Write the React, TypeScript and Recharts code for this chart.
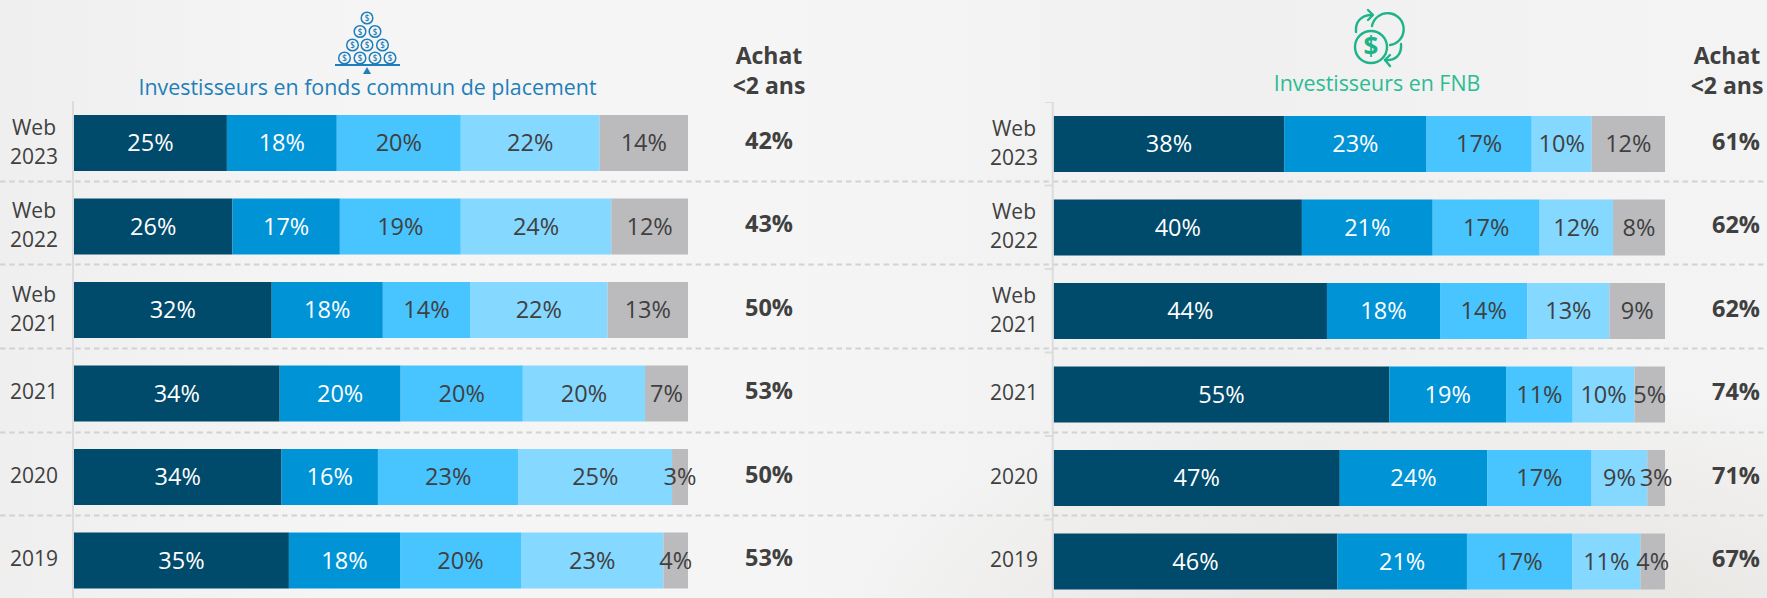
import React from "react";
import { BarChart, Bar, XAxis, YAxis, LabelList } from "recharts";

const categories = ["Web 2023", "Web 2022", "Web 2021", "2021", "2020", "2019"];
const seriesKeys = ["a", "b", "c", "d", "e"];
const seriesColors = ["#004a6b", "#0093d5", "#48c5ff", "#85d8ff", "#bbbbbd"];
const labelColors = ["#ffffff", "#ffffff", "#404040", "#404040", "#404040"];

// widths measured on the picture, printed labels kept apart since they don't always add to 100
const mutualValues = [
  [24.9, 17.9, 20.2, 22.6, 14.4],
  [25.8, 17.5, 19.7, 24.5, 12.5],
  [32.2, 18.1, 14.2, 22.4, 13.1],
  [33.5, 19.7, 19.9, 19.9, 7.0],
  [33.8, 15.7, 22.9, 25.0, 2.6],
  [35.0, 18.1, 19.7, 23.2, 4.0],
];
const mutualLabels = [
  [25, 18, 20, 22, 14],
  [26, 17, 19, 24, 12],
  [32, 18, 14, 22, 13],
  [34, 20, 20, 20, 7],
  [34, 16, 23, 25, 3],
  [35, 18, 20, 23, 4],
];
const mutualAchat = [42, 43, 50, 53, 50, 53];

const etfValues = [
  [37.7, 23.3, 17.2, 9.8, 12.0],
  [40.6, 21.4, 17.5, 12.0, 8.5],
  [44.7, 18.5, 14.3, 13.4, 9.1],
  [54.9, 19.1, 10.9, 10.1, 5.0],
  [46.8, 24.1, 17.1, 9.1, 2.9],
  [46.4, 21.2, 17.2, 11.2, 4.0],
];
const etfLabels = [
  [38, 23, 17, 10, 12],
  [40, 21, 17, 12, 8],
  [44, 18, 14, 13, 9],
  [55, 19, 11, 10, 5],
  [47, 24, 17, 9, 3],
  [46, 21, 17, 11, 4],
];
const etfAchat = [61, 62, 62, 74, 71, 67];

const FONT = "'Open Sans', sans-serif";
const ROW = 83.5;
const AXIS_GREY = "#dcdcdc";
const dividers = [181, 264.6, 348.4, 432, 515.8];

const buildRows = (values: number[][], labels: number[][], achat: number[]) =>
  categories.map((cat, i) => {
    const row: any = { cat, achat: achat[i] + "%" };
    seriesKeys.forEach((k, j) => {
      row[k] = values[i][j];
      row[k + "Label"] = labels[i][j];
    });
    return row;
  });

const CategoryTick = ({ y, payload, cx, axisX, marks }: any) => {
  const parts = String(payload.value).split(" ");
  return (
    <g>
      <line x1={axisX - 1} x2={axisX - 1} y1={y - ROW / 2} y2={y + ROW / 2} stroke={AXIS_GREY} strokeWidth={2} />
      {marks && <line x1={axisX - 9} x2={axisX} y1={y - ROW / 2} y2={y - ROW / 2} stroke={AXIS_GREY} strokeWidth={2} />}
      {parts.length === 2 ? (
        <text textAnchor="middle" fontFamily={FONT} fontSize={21} fill="#404040">
          <tspan x={cx} y={y - 8}>{parts[0]}</tspan>
          <tspan x={cx} y={y + 21}>{parts[1]}</tspan>
        </text>
      ) : (
        <text x={cx} y={y + 6} textAnchor="middle" fontFamily={FONT} fontSize={21} fill="#404040">{parts[0]}</text>
      )}
    </g>
  );
};

const AchatTick = ({ y, payload, cx }: any) => (
  <text x={cx} y={y + 6} textAnchor="middle" fontFamily={FONT} fontWeight={700} fontSize={23.5} fill="#404040">
    {payload.value}
  </text>
);

const Panel = ({ rows, left, top, width, axisW, plotW, catX, achatX, marks }: any) => (
  <div style={{ position: "absolute", left, top }}>
    <BarChart
      layout="vertical"
      width={width}
      height={ROW * 6}
      data={rows}
      margin={{ top: 0, right: 0, bottom: 0, left: 0 }}
      barSize={56}
    >
      <XAxis type="number" hide domain={[0, 100]} />
      <YAxis
        yAxisId="cat"
        type="category"
        dataKey="cat"
        width={axisW}
        axisLine={false}
        tickLine={false}
        tick={<CategoryTick cx={catX} axisX={axisW} marks={marks} />}
        interval={0}
      />
      <YAxis
        yAxisId="achat"
        orientation="right"
        type="category"
        dataKey="achat"
        width={width - axisW - plotW}
        axisLine={false}
        tickLine={false}
        tick={<AchatTick cx={achatX} />}
        interval={0}
      />
      {seriesKeys.map((k, j) => (
        <Bar key={k} yAxisId="cat" dataKey={k} stackId="s" fill={seriesColors[j]} isAnimationActive={false}>
          <LabelList
            dataKey={k + "Label"}
            position="center"
            formatter={(v: any) => v + "%"}
            fill={labelColors[j]}
            fontFamily={FONT}
            fontSize={23.5}
            fontWeight={400}
          />
        </Bar>
      ))}
    </BarChart>
  </div>
);

const Coin = ({ x, y }: { x: number; y: number }) => (
  <g>
    <circle cx={x} cy={y} r={5.8} fill="none" stroke="#1f7fba" strokeWidth={1.5} />
    <text x={x} y={y + 3} textAnchor="middle" fontFamily={FONT} fontSize={8} fontWeight={600} fill="#1f7fba">$</text>
  </g>
);

const coinSpots = [
  [367, 18], [360, 31.5], [375, 31.5], [352.5, 45], [367, 45], [382.5, 45],
  [344.5, 58], [360, 58], [375, 58], [390, 58],
];

const Icons = () => (
  <svg width={1767} height={120} style={{ position: "absolute", left: 0, top: 0 }}>
    {coinSpots.map(([x, y]) => <Coin key={x + "-" + y} x={x} y={y} />)}
    <line x1={335} x2={400} y1={65} y2={65} stroke="#1f7fba" strokeWidth={2} />
    <path d="M367 67 L371 74 L363 74 Z" fill="#1f7fba" />
    <g fill="none" stroke="#1fb389" strokeWidth={2.4} strokeLinecap="round" strokeLinejoin="round">
      <circle cx={1371} cy={47} r={16} />
      <path d="M1372 26 A 16 16 0 1 1 1390 45" />
      <path d="M1356 32 C1355 22 1361 15 1372 15" />
      <path d="M1368 10 L1373 15 L1368 20" />
      <path d="M1401 44 C1402 54 1396 61 1385 60" />
      <path d="M1390 55 L1385 60 L1390 66" />
    </g>
    <text x={1371} y={56} textAnchor="middle" fontFamily={FONT} fontWeight={700} fontSize={26} fill="#1fb389">$</text>
  </svg>
);

const Heading = ({ x, y, children, style }: any) => (
  <div
    style={{
      position: "absolute",
      left: x - 300,
      top: y,
      width: 600,
      textAlign: "center",
      fontFamily: FONT,
      whiteSpace: "nowrap",
      ...style,
    }}
  >
    {children}
  </div>
);

export default function App() {
  return (
    <div
      style={{
        position: "absolute",
        left: 0,
        top: 0,
        width: 1767,
        height: 598,
        overflow: "hidden",
        background:
          "radial-gradient(ellipse 700px 260px at 1500px 640px, #e6e3df 0%, rgba(230,227,223,0) 100%), linear-gradient(90deg, #efefef 0%, #f5f5f5 20%, #f5f5f5 45%, #f0f0f0 70%, #f4f4f4 100%)",
      }}
    >
      {dividers.map((y) => (
        <svg key={y} width={1767} height={3} style={{ position: "absolute", left: 0, top: y - 1.5 }}>
          <line x1={0} x2={1767} y1={1.5} y2={1.5} stroke="#d2d2d2" strokeWidth={2} strokeDasharray="5.5 3.9" />
        </svg>
      ))}
      <Icons />
      <Heading x={367.5} y={72} style={{ fontSize: 21.4, color: "#1f7fba" }}>Investisseurs en fonds commun de placement</Heading>
      <Heading x={1377} y={68} style={{ fontSize: 21.4, color: "#2dbb94" }}>Investisseurs en FNB</Heading>
      <Heading x={769} y={40} style={{ fontSize: 23, fontWeight: 700, color: "#404040", lineHeight: "30px" }}>
        Achat<br />&lt;2 ans
      </Heading>
      <Heading x={1727} y={40} style={{ fontSize: 23, fontWeight: 700, color: "#404040", lineHeight: "30px" }}>
        Achat<br />&lt;2 ans
      </Heading>
      <Panel
        rows={buildRows(mutualValues, mutualLabels, mutualAchat)}
        left={0}
        top={100.75}
        width={860}
        axisW={74}
        plotW={614}
        catX={34}
        achatX={769}
        marks={false}
      />
      <Panel
        rows={buildRows(etfValues, etfLabels, etfAchat)}
        left={960}
        top={101.5}
        width={807}
        axisW={93.7}
        plotW={611.3}
        catX={54}
        achatX={776}
        marks={true}
      />
    </div>
  );
}
